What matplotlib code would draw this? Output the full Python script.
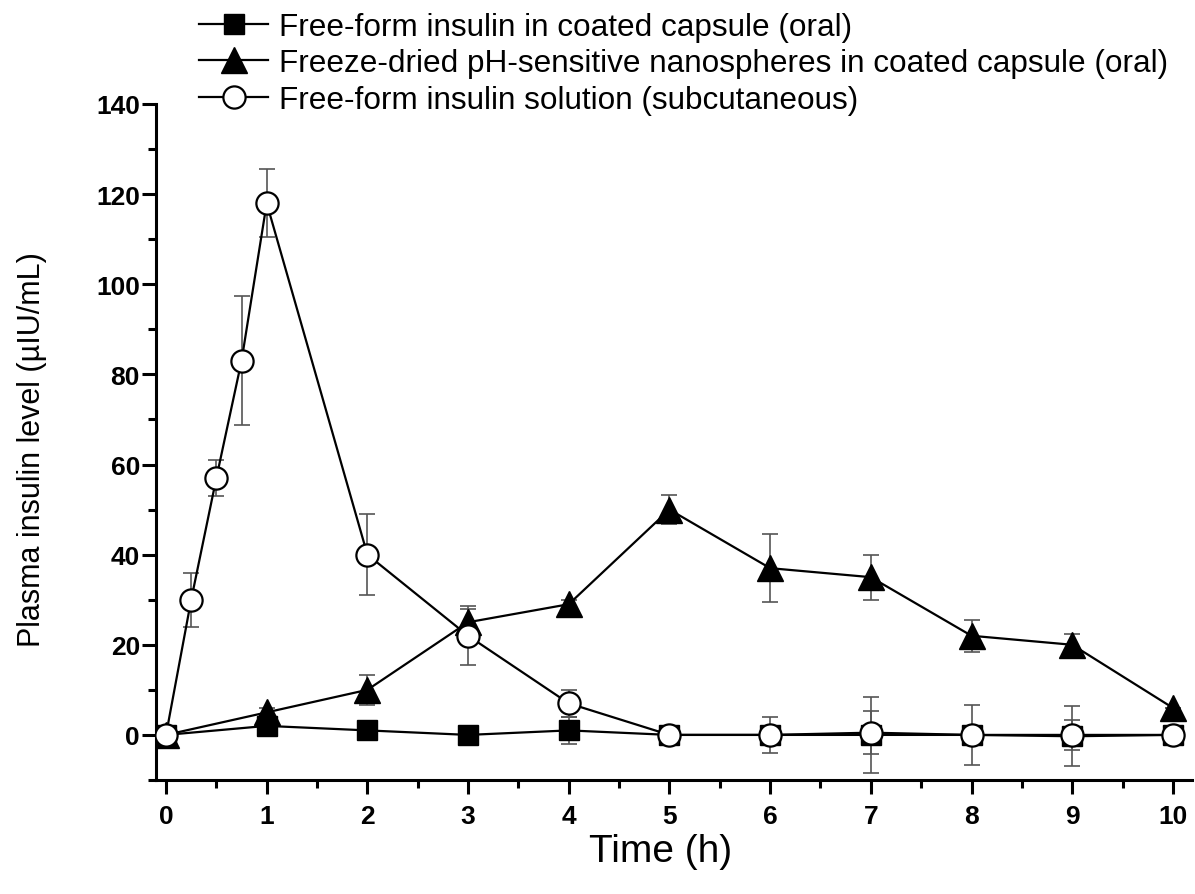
import matplotlib
matplotlib.use('agg')
import matplotlib.pyplot as plt
from matplotlib.ticker import MultipleLocator

plt.rcParams['font.family'] = ['Liberation Sans', 'DejaVu Sans']

# free-form insulin in coated capsule (oral)
t_sq = [0, 1, 2, 3, 4, 5, 6, 7, 8, 9, 10]
y_sq = [0, 2, 1, 0, 1, 0, 0, 0, 0, -0.3, 0]
e_sq = [0, 2, 0.5, 0, 3, 0, 0, 8.5, 6.7, 6.7, 0]

# freeze-dried pH-sensitive nanospheres (oral)
t_tri = [0, 1, 2, 3, 4, 5, 6, 7, 8, 9, 10]
y_tri = [0, 5, 10, 25, 29, 50, 37, 35, 22, 20, 6]
e_tri = [0, 1, 3.3, 3, 1, 3.3, 7.5, 5, 3.5, 2.5, 0]

# free-form insulin solution (subcutaneous)
t_cir = [0, 0.25, 0.5, 0.75, 1, 2, 3, 4, 5, 6, 7, 8, 9, 10]
y_cir = [0, 30, 57, 83, 118, 40, 22, 7, 0, 0, 0.5, 0, 0, 0]
e_cir = [0, 6, 4, 14.3, 7.5, 9, 6.5, 3, 0, 4, 4.7, 0, 3.3, 0]

labels = ['Free-form insulin in coated capsule (oral)',
          'Freeze-dried pH-sensitive nanospheres in coated capsule (oral)',
          'Free-form insulin solution (subcutaneous)']

fig = plt.figure(figsize=(11.95, 8.95), dpi=100)
ax = fig.add_axes([0.1305, 0.1274, 0.867, 0.7553])

ebkw = dict(fmt='none', ecolor='#555555', elinewidth=1.2, capsize=6, capthick=1.2, zorder=1)
ax.errorbar(t_sq, y_sq, yerr=e_sq, **ebkw)
ax.errorbar(t_tri, y_tri, yerr=e_tri, **ebkw)
ax.errorbar(t_cir, y_cir, yerr=e_cir, **ebkw)

h1, = ax.plot(t_sq, y_sq, '-', color='black', lw=1.6, marker='s', ms=14,
              mfc='black', mec='black', zorder=3)
h2, = ax.plot(t_tri, y_tri, '-', color='black', lw=1.6, marker='^', ms=19,
              mfc='black', mec='black', zorder=4)
h3, = ax.plot(t_cir, y_cir, '-', color='black', lw=1.6, marker='o', ms=16,
              mfc='white', mec='black', mew=1.6, zorder=5)

ax.set_xlim(-0.1, 10.19)
ax.set_ylim(-10, 140)
ax.xaxis.set_major_locator(MultipleLocator(1))
ax.xaxis.set_minor_locator(MultipleLocator(0.5))
ax.yaxis.set_major_locator(MultipleLocator(20))
ax.yaxis.set_minor_locator(MultipleLocator(10))

for s in ['top', 'right']:
    ax.spines[s].set_visible(False)
for s in ['left', 'bottom']:
    ax.spines[s].set_linewidth(2.2)

ax.tick_params(which='major', direction='out', length=10, width=2.2, labelsize=19)
ax.tick_params(which='minor', direction='out', length=5.5, width=2.2)
ax.tick_params(axis='y', pad=1.5)
ax.tick_params(axis='x', pad=7)
for lbl in ax.get_xticklabels() + ax.get_yticklabels():
    lbl.set_fontweight('bold')

ax.set_xlabel('Time (h)', fontsize=28)
ax.set_ylabel('Plasma insulin level (µIU/mL)', fontsize=22)
ax.xaxis.set_label_coords(0.487, -0.078)
ax.yaxis.set_label_coords(-0.105, 0.49)

fig.legend([h1, h2, h3], labels, loc='upper left', bbox_to_anchor=(0.156, 1.0),
           frameon=False, fontsize=22.7, handlelength=2.2, handletextpad=0.35,
           labelspacing=0.21, borderaxespad=0)

fig.savefig('out.png', dpi=100)
